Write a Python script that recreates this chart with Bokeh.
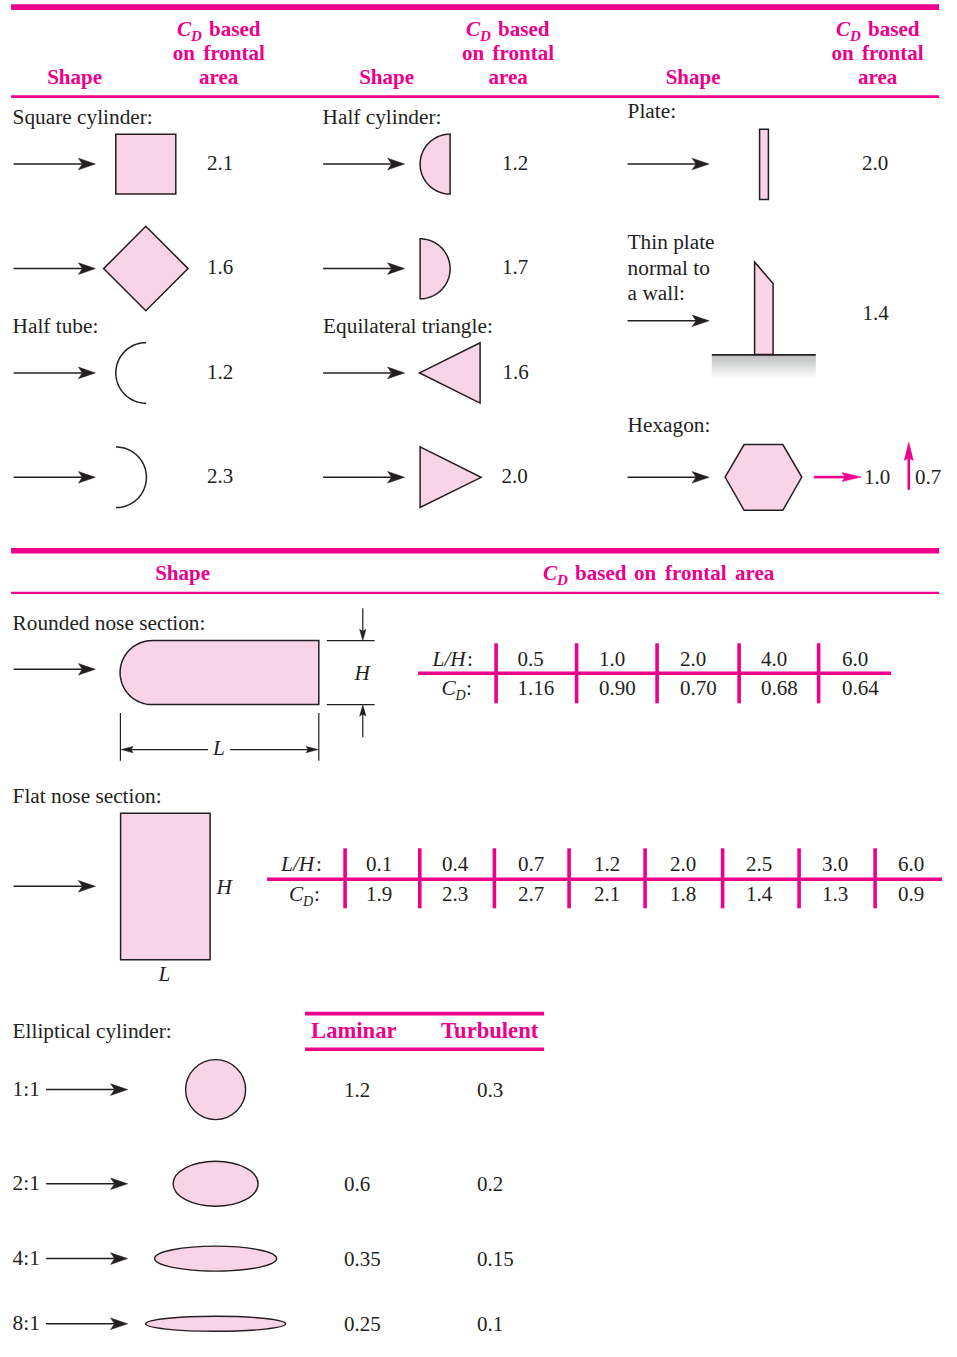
import numpy as np
from bokeh.plotting import figure
from bokeh.core.properties import value
from bokeh.embed import file_html
from bokeh.resources import INLINE

# ---------- values ----------
col1_cd = ["2.1", "1.6", "1.2", "2.3"]
col2_cd = ["1.2", "1.7", "1.6", "2.0"]
plate_cd = "2.0"
wall_plate_cd = "1.4"
hexagon_cd = ["1.0", "0.7"]
rounded_lh = ["0.5", "1.0", "2.0", "4.0", "6.0"]
rounded_cd = ["1.16", "0.90", "0.70", "0.68", "0.64"]
flat_lh = ["0.1", "0.4", "0.7", "1.2", "2.0", "2.5", "3.0", "6.0"]
flat_cd = ["1.9", "2.3", "2.7", "2.1", "1.8", "1.4", "1.3", "0.9"]
ellipse_ratio = ["1:1", "2:1", "4:1", "8:1"]
ellipse_laminar = ["1.2", "0.6", "0.35", "0.25"]
ellipse_turbulent = ["0.3", "0.2", "0.15", "0.1"]

INK = "#231F20"
PINK = "#EC008C"
FILL = "#F9D3E6"
SERIF = "Liberation Serif"
BODY = 21.3
NUM = 21

p = figure(width=957, height=1349, x_range=(-7.6, 949.4), y_range=(1341.2, -7.8),
           output_backend="svg", toolbar_location=None, min_border=0,
           margin=(-8, 0, 0, -8), background_fill_color="white",
           outline_line_color=None, tools="")
p.xaxis.visible = False
p.yaxis.visible = False
p.grid.visible = False


def is_number(s):
    try:
        float(s)
        return True
    except ValueError:
        return False


def T(x, y, s, size=BODY, style="normal", color=INK, align="left"):
    # y is the text's baseline; numeric strings sit on "bottom" without the descent
    off = 0 if is_number(s) else 0.216 * size
    p.text([x], [y + off], text=[s], text_font=value(SERIF),
           text_font_size=value(f"{size}px"), text_font_style=style,
           text_color=color, text_align=align, text_baseline="bottom")


def N(x, y, s):
    T(x, y, s, size=NUM)


def H(x, y, s, align="center", size=21):
    T(x, y, s, size=size, style="bold", color=PINK, align=align)


def L(xs, ys, w=1.5, c=INK):
    p.line(xs, ys, line_width=w, line_color=c, line_cap="butt", line_join="miter")


def head(tx, ty, dx, dy, length, half, notch, c=INK):
    nx, ny = -dy, dx
    p.patch([tx, tx - dx * length + nx * half, tx - dx * notch, tx - dx * length - nx * half],
            [ty, ty - dy * length + ny * half, ty - dy * notch, ty - dy * length - ny * half],
            fill_color=c, line_color=c, line_width=0.5)


def arrow(x0, y0, x1, y1, length=17, half=5.8, notch=13, c=INK, w=1.5):
    d = np.hypot(x1 - x0, y1 - y0)
    dx, dy = (x1 - x0) / d, (y1 - y0) / d
    L([x0, x1 - dx * notch], [y0, y1 - dy * notch], w=w, c=c)
    head(x1, y1, dx, dy, length, half, notch, c)


def shape(xs, ys, w=1.5):
    p.patch(list(xs), list(ys), fill_color=FILL, line_color=INK, line_width=w, line_join="miter")


def arc(cx, cy, r, a0, a1, n=60):
    t = np.radians(np.linspace(a0, a1, n))
    return cx + r * np.cos(t), cy + r * np.sin(t)


def cd_head(x, y, size=21, sub=15, gap=14, rest=None, rest_x=None):
    T(x, y, "C", size=size, style="bold italic", color=PINK)
    T(x + gap, y + 4, "D", size=sub, style="bold italic", color=PINK)
    if rest:
        H(rest_x, y, rest, align="left", size=size)


def col_header(shape_x, cd_x, on_x, frontal_x, area_x):
    H(shape_x, 84, "Shape")
    cd_head(cd_x, 36, rest="based", rest_x=cd_x + 32)
    H(on_x, 60, "on", align="left")
    H(frontal_x, 60, "frontal", align="left")
    H(area_x, 84, "area")


# ---------- rules ----------
L([11, 939], [6.8, 6.8], w=5.6, c=PINK)
L([11, 939], [96.3, 96.3], w=2.6, c=PINK)
L([11, 939], [550.5, 550.5], w=5.6, c=PINK)
L([11, 939], [592.6, 592.6], w=2.2, c=PINK)

col_header(74.5, 177, 172.7, 203.3, 218.5)
col_header(386.5, 466, 462, 492.5, 508)
col_header(693, 836, 831.5, 862, 877.5)

# ---------- first block, column 1 ----------
T(12.5, 123.6, "Square cylinder:")
T(12.5, 333, "Half tube:")
row_y = [163.7, 268.3, 372.6, 477]
for y in row_y:
    arrow(13.5, y, 95.3, y)
shape([115.7, 175.7, 175.7, 115.7], [134, 134, 193.7, 193.7])
shape([145.7, 188, 145.7, 103.5], [226, 268.3, 310.5, 268.3])
xa, ya = arc(146, 372.6, 30.3, 90, 270)
L(xa, ya)
xa, ya = arc(116, 477, 30.3, -90, 90)
L(xa, ya)
for y, v in zip([170, 274, 379, 483], col1_cd):
    N(207, y, v)

# ---------- first block, column 2 ----------
T(322.5, 123.6, "Half cylinder:")
T(323, 333, "Equilateral triangle:")
for y in row_y:
    arrow(323, y, 404.5, y)
xa, ya = arc(450, 163.8, 30, 90, 270)
shape(xa, ya)
xa, ya = arc(420, 268.5, 30, -90, 90)
shape(xa, ya)
shape([419.5, 480, 480], [372.6, 342.5, 402.8])
shape([420, 481, 420], [446.5, 477, 507.2])
for x, y, v in zip([502, 502, 502.5, 501.5], [170, 274, 379, 483], col2_cd):
    N(x, y, v)

# ---------- first block, column 3 ----------
T(627.5, 118, "Plate:")
arrow(627.5, 163.7, 709, 163.7)
shape([759.5, 768.3, 768.3, 759.5], [129, 129, 199.3, 199.3])
N(862, 170, plate_cd)

T(627.5, 249, "Thin plate")
T(627.5, 275, "normal to")
T(627.5, 300, "a wall:")
arrow(627.5, 320.5, 709, 320.5)
steps = 24
for i in range(steps):
    g = 0.69 + (1 - 0.69) * (i / (steps - 1))
    v = int(g * 255)
    hexc = "#%02x%02x%02x" % (v, min(v + 1, 255), min(v + 2, 255))
    p.quad(left=[711.7], right=[815.7], top=[355 + i], bottom=[356 + i], fill_color=hexc, line_color=None)
shape([754.5, 773, 773, 754.5], [261.7, 283.3, 354.3, 354.3])
L([711.7, 815.7], [354.5, 354.5], w=1.7)
N(862.5, 320, wall_plate_cd)

T(627.5, 432, "Hexagon:")
arrow(627.5, 477, 709, 477)
shape([725, 744, 782.7, 801.7, 782.7, 744], [476.8, 444.3, 444.3, 476.8, 510, 510])
arrow(814, 476.8, 861, 476.8, length=19, half=4.5, notch=16, c=PINK, w=2.6)
arrow(908.7, 489.5, 908.7, 442, length=18, half=4.5, notch=16, c=PINK, w=2.6)
N(864, 484, hexagon_cd[0])
N(915, 484, hexagon_cd[1])

# ---------- second block header ----------
H(182.5, 580, "Shape")
cd_head(543, 580, rest="based", rest_x=575)
H(634, 580, "on", align="left")
H(665, 580, "frontal", align="left")
H(735, 580, "area", align="left")

# ---------- rounded nose ----------
T(12.5, 630, "Rounded nose section:")
arrow(13.5, 669, 95.3, 669)
xa, ya = arc(152, 672.3, 32, 90, 270)
shape(list(xa) + [318.7, 318.7], list(ya) + [640.3, 704.3])
L([326.7, 374.5], [640.3, 640.3], w=1.2)
L([326.7, 374.5], [704.3, 704.3], w=1.2)
arrow(362.7, 608, 362.7, 640, length=11, half=3.2, notch=9, w=1.2)
arrow(362.7, 737, 362.7, 704.8, length=11, half=3.2, notch=9, w=1.2)
T(354.5, 680, "H", style="italic")
L([120.3, 120.3], [712.7, 760.5], w=1.2)
L([318.7, 318.7], [712.7, 760.5], w=1.2)
arrow(208, 749.3, 121, 749.3, length=12, half=3.2, notch=10, w=1.2)
arrow(230, 749.3, 318, 749.3, length=12, half=3.2, notch=10, w=1.2)
T(213, 755, "L", style="italic")

L([418, 891], [673, 673], w=3.6, c=PINK)
for x in [496, 576.5, 657, 739, 818.5]:
    L([x, x], [643, 703], w=3.6, c=PINK)
T(432.5, 666, "L/H", style="italic")
T(467, 666, ":")
T(441.5, 695, "C", style="italic")
T(455.5, 700, "D", size=14, style="italic")
T(466, 695, ":")
for x, a, b in zip([517.5, 599, 680, 761, 842], rounded_lh, rounded_cd):
    N(x, 666, a)
    N(x, 695, b)

# ---------- flat nose ----------
T(12.5, 803, "Flat nose section:")
arrow(13.5, 886, 95.3, 886)
shape([120.5, 210, 210, 120.5], [813, 813, 959.5, 959.5])
T(216.5, 894, "H", style="italic")
T(158.5, 981, "L", style="italic")
L([267, 942], [879, 879], w=3.6, c=PINK)
for x in [345, 419.7, 494.3, 569, 645, 722.5, 799, 875]:
    L([x, x], [848, 908], w=3.6, c=PINK)
T(281, 871, "L/H", style="italic")
T(316, 871, ":")
T(289, 901, "C", style="italic")
T(303, 906, "D", size=14, style="italic")
T(314, 901, ":")
for x, a, b in zip([366, 442, 518, 594, 670, 746, 822, 898], flat_lh, flat_cd):
    N(x, 871, a)
    N(x, 901, b)

# ---------- elliptical ----------
T(12.5, 1038, "Elliptical cylinder:")
L([305, 544], [1013.3, 1013.3], w=3.6, c=PINK)
L([305, 544], [1049, 1049], w=3.6, c=PINK)
H(311, 1038, "Laminar", align="left", size=22.6)
H(441, 1038, "Turbulent", align="left", size=22.6)
ell_y = [1089.3, 1183.5, 1258.3, 1323.5]
ell_w = [60, 85, 122, 140]
ell_h = [60, 45, 25, 15]
for y, ew, eh, r, lam, tur in zip(ell_y, ell_w, ell_h, ellipse_ratio, ellipse_laminar, ellipse_turbulent):
    T(12.5, y + 7, r)
    arrow(46, y, 127.5, y)
    p.ellipse([215.5], [y], width=ew, height=eh, fill_color=FILL, line_color=INK, line_width=1.4)
    N(344, y + 7, lam)
    N(477, y + 7, tur)

open("out.html", "w").write(file_html(p, INLINE))
